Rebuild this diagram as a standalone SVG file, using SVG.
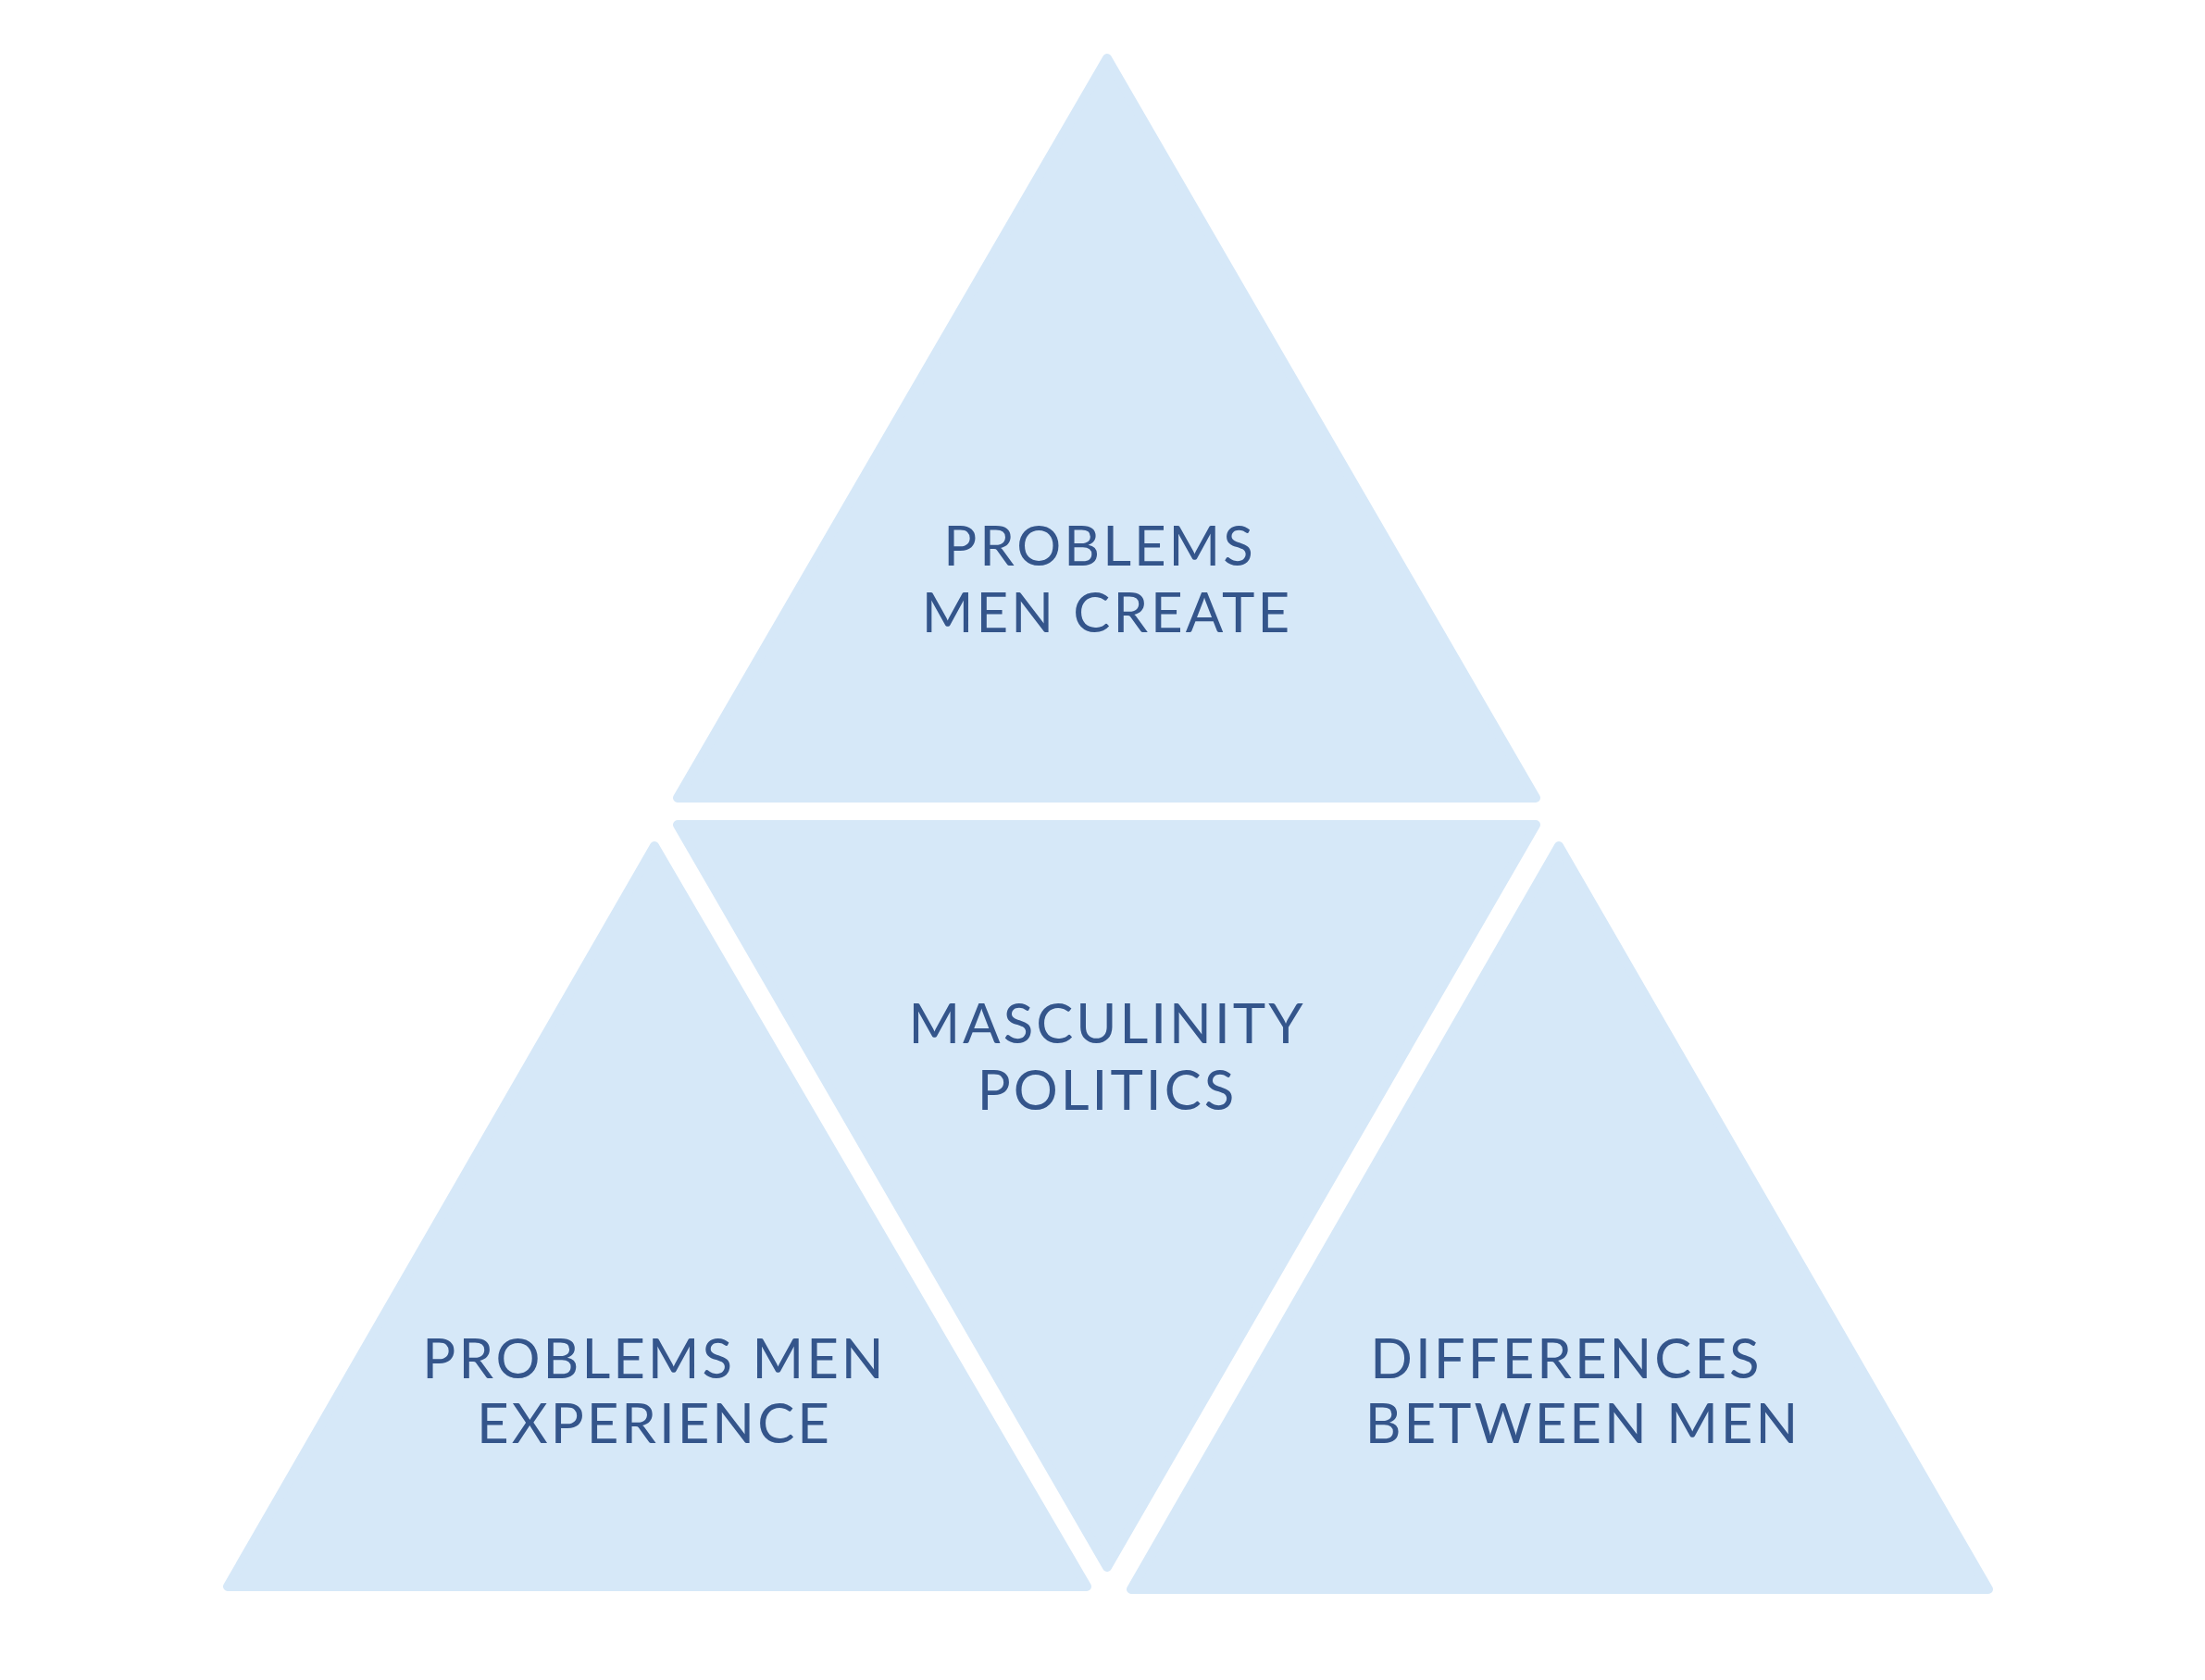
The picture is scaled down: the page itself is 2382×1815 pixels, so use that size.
<svg xmlns="http://www.w3.org/2000/svg" width="2382" height="1815" viewBox="0 0 2382 1815">
<style>
.t{fill:#d6e8f8;stroke:#d6e8f8;stroke-width:10;stroke-linejoin:round}
.l{font-family:Lato,"Liberation Sans",sans-serif;font-size:60px;fill:#34558b;text-anchor:middle;letter-spacing:3px}
</style>
<rect width="2382" height="1815" fill="#fff"/>
<g id="top"><polygon class="t" points="1196,63 732,862 1659,862"/><text class="l" x="1188" y="611">PROBLEMS</text><text class="l" x="1196" y="683">MEN CREATE</text></g>
<g id="middle"><polygon class="t" points="732,891 1659,891 1196,1693"/><text class="l" x="1196" y="1127">MASCULINITY</text><text class="l" x="1196" y="1199">POLITICS</text></g>
<g id="left"><polygon class="t" points="707,914 246,1714 1174,1714"/><text class="l" x="707" y="1489">PROBLEMS MEN</text><text class="l" x="707" y="1559">EXPERIENCE</text></g>
<g id="right"><polygon class="t" points="1684,914 1222,1717 2148,1717"/><text class="l" x="1692" y="1489">DIFFERENCES</text><text class="l" x="1710" y="1559">BETWEEN MEN</text></g>
<g id="connectors"/>
</svg>
